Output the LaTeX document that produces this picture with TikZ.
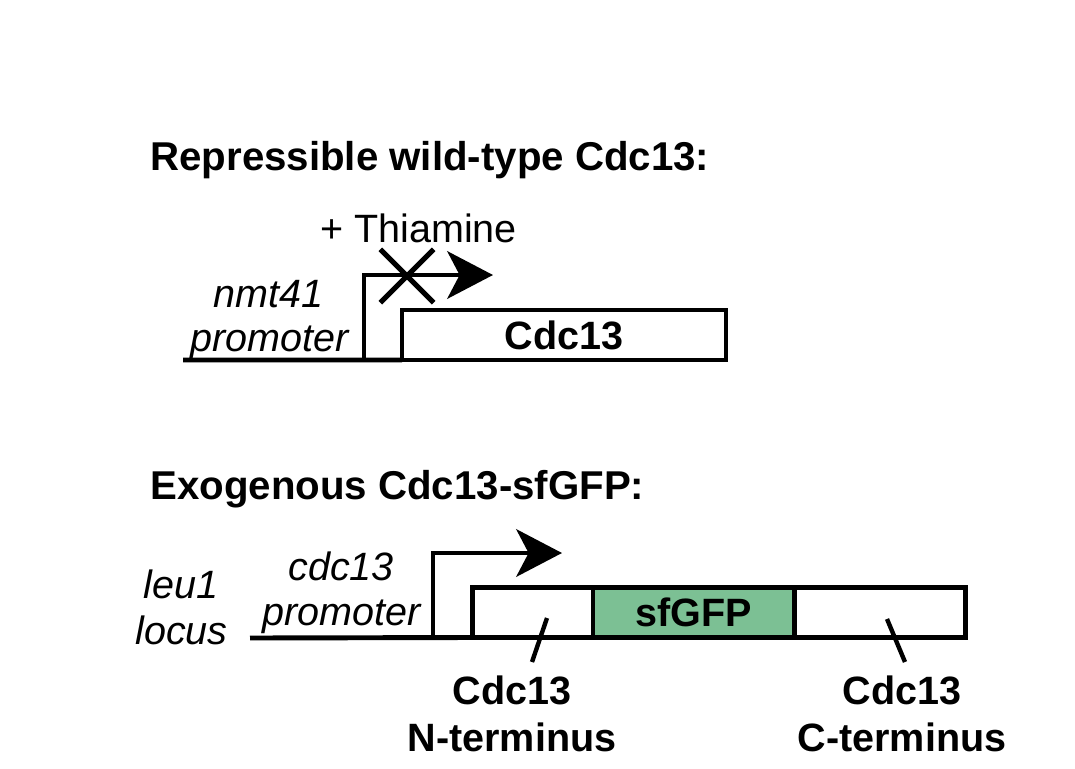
\documentclass[tikz,border=0pt]{standalone}
\usepackage{fontspec}
\setmainfont{Liberation Sans}
\usetikzlibrary{arrows.meta, positioning, shapes.misc}
\definecolor{gfpgreen}{RGB}{124,192,148}
\tikzstyle{lbl} = [font=\fontsize{22.5}{27}\selectfont, inner sep=0pt, anchor=base west]
\tikzstyle{ital} = [lbl, font=\fontsize{22.5}{27}\selectfont\itshape]
\tikzstyle{head} = [lbl, font=\fontsize{22.9}{27}\selectfont\bfseries]
\tikzstyle{term} = [lbl, font=\fontsize{22.5}{27}\selectfont\bfseries, anchor=base]
\tikzstyle{gene} = [rectangle, draw=black, line width=2.8pt, outer sep=0pt, inner sep=0pt, minimum height=1cm, font=\fontsize{22.5}{27}\selectfont\bfseries]
\tikzstyle{dna} = [line width=2.8pt]
\tikzstyle{promo} = [line width=2.8pt, -{Stealth[length=26pt, width=27pt, inset=7pt]}]
\tikzstyle{tick} = [line width=2.5pt]

\begin{document}
\begin{tikzpicture}[x=0.02cm, y=-0.02cm]
\useasboundingbox (0,0) rectangle (1075,768);

% repressible copy
\node (title1) [head] at (150,170) {Repressible wild-type Cdc13:};
\node (thia) [lbl] at (320,242) {+ Thiamine};
\node (nmt) [ital] at (213,307) {nmt41};
\node (prom1) [ital] at (190,351) {promoter};
\node (cdc) [gene, minimum width=6.48cm] at (564,335) {Cdc13};
\coordinate (dna1) at (183,360);
\coordinate (tss1) at (364,360);
\coordinate (tip1) at (493,275);
\draw [dna] (dna1) -- (cdc.south west);
\draw [promo] (tss1) |- (tip1);
\node (block) [cross out, draw, line width=3pt, minimum size=0.96cm, inner sep=0pt] at (407,276) {};

% exogenous copy
\node (title2) [head] at (150,499) {Exogenous Cdc13-sfGFP:};
\node (leu) [ital] at (143,598) {leu1};
\node (locus) [ital] at (135,644) {locus};
\node (cdcp) [ital] at (288,580) {cdc13};
\node (prom2) [ital] at (262,625) {promoter};
\node (nterm) [gene, minimum width=2.41cm, anchor=west] at (472.5,612.5) {};
\node (gfp) [gene, minimum width=4.04cm, fill=gfpgreen, right=0pt of nterm] {sfGFP};
\node (cterm) [gene, minimum width=3.41cm, right=0pt of gfp] {};
\coordinate (dna2) at (250,638);
\coordinate (tss2) at (433,638);
\coordinate (tip2) at (562,553);
\draw [dna] (dna2) -- (nterm.south west);
\draw [promo] (tss2) |- (tip2);

% domain labels
\coordinate (nt1) at (547,618);
\coordinate (nt2) at (532,662);
\coordinate (ct1) at (887,619);
\coordinate (ct2) at (905,662);
\draw [tick] (nt1) -- (nt2);
\draw [tick] (ct1) -- (ct2);
\node (nlab1) [term] at (512,704) {Cdc13};
\node (nlab2) [term] at (512,751) {N-terminus};
\node (clab1) [term] at (902,704) {Cdc13};
\node (clab2) [term] at (902,751) {C-terminus};
\end{tikzpicture}
\end{document}
